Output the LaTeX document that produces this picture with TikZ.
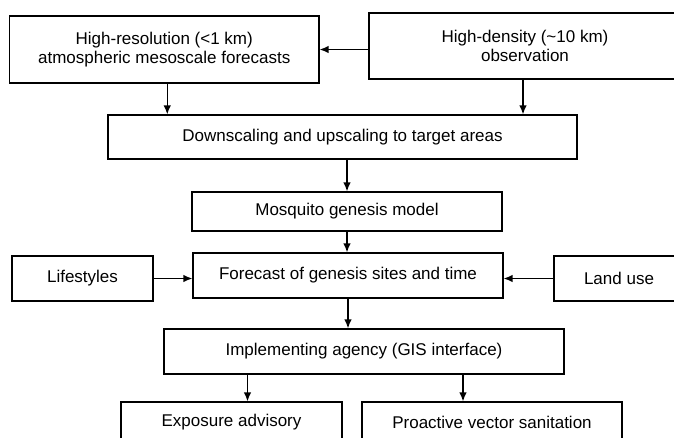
\documentclass[tikz,border=0pt]{standalone}
\usepackage{fontspec}
\setmainfont{Liberation Sans}
\usetikzlibrary{arrows.meta}
\tikzset{
    box/.style={draw, line width=1.2pt, inner sep=0pt, align=center,
        font=\fontsize{17}{19}\selectfont},
}
\begin{document}
\begin{tikzpicture}[>={Latex[length=9pt,width=7.5pt]}, x=1pt, y=-1pt, line width=1.3pt]
\useasboundingbox (0,0) rectangle (674,437);
\clip (0,0) rectangle (674,437);
\fill[white] (0,0) rectangle (674,437);

\node[box, minimum width=309.5, minimum height=67] (fcst) at (164.25,49.5)
    {High-resolution (<1 km)\\atmospheric mesoscale forecasts};
\node[box, minimum width=312, minimum height=66] (obs) at (525,46)
    {High-density (\textasciitilde10 km)\\observation};
\node[box, minimum width=469, minimum height=44] (scal) at (342.5,137)
    {Downscaling and upscaling to target areas};
\node[box, minimum width=310, minimum height=39] (model) at (347,211.5)
    {Mosquito genesis model};
\node[box, minimum width=310, minimum height=45] (sites) at (348,275.5)
    {Forecast of genesis sites and time};
\node[box, minimum width=141, minimum height=45] (life) at (82.5,278.5)
    {Lifestyles};
\node[box, minimum width=130, minimum height=45] (land) at (619,278.5)
    {Land use};
\node[box, minimum width=400, minimum height=45] (agency) at (364,351.5)
    {Implementing agency (GIS interface)};
\node[box, minimum width=221, minimum height=40] (expo) at (231.5,422)
    {Exposure advisory};
\node[box, minimum width=260, minimum height=40] (vect) at (492,422)
    {Proactive vector sanitation};

\draw[->] (fcst.east -| obs.west)--(fcst.east);
\draw[->] ([xshift=3]fcst.south)--([xshift=3]fcst.south |- scal.north);
\draw[->] ([xshift=-2]obs.south)--([xshift=-2]obs.south |- scal.north);
\draw[->] (scal.south -| model.north)--(model.north);
\draw[->] (model.south)--(model.south |- sites.north);
\draw[->] (life.east)--(life.east -| sites.west);
\draw[->] (land.west)--(land.west -| sites.east);
\draw[->] (sites.south)--(sites.south |- agency.north);
\draw[->] ([xshift=16]expo.north |- agency.south)--([xshift=16]expo.north);
\draw[->] ([xshift=-29]vect.north |- agency.south)--([xshift=-29]vect.north);
\end{tikzpicture}
\end{document}
